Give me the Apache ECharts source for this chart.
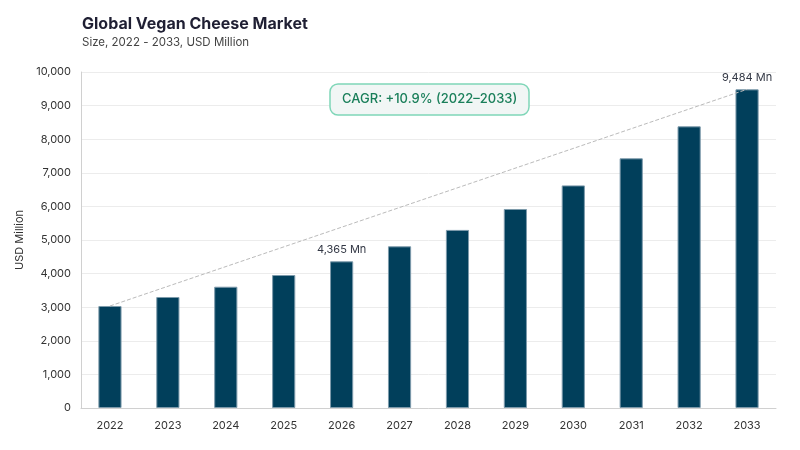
<!DOCTYPE html>
<html>
<head>
<meta charset="utf-8">
<script src="https://cdn.jsdelivr.net/npm/echarts@6/dist/echarts.min.js"></script>
<style>
  html, body { margin: 0; padding: 0; background: #fff; }
  #chart { width: 800px; height: 450px; }
</style>
</head>
<body>
<div id="chart"></div>
<script>
var years = ['2022', '2023', '2024', '2025', '2026', '2027', '2028', '2029', '2030', '2031', '2032', '2033'];
var marketSize = [3036, 3304, 3610, 3958, 4365, 4812, 5300, 5923, 6625, 7431, 8383, 9484];
var labelledYears = ['2026', '2033'];
var yTicks = [0, 10000, 1000];

var chart = echarts.init(document.getElementById('chart'));
var font = 'Inter, "Noto Sans", sans-serif';

var barData = marketSize.map(function (v, i) {
  var show = labelledYears.indexOf(years[i]) >= 0;
  return {
    value: v,
    label: {
      show: show,
      position: 'top',
      distance: 6,
      formatter: function (p) { return p.value.toLocaleString('en-US') + ' Mn'; },
      color: '#333845',
      fontSize: 11,
      fontFamily: font
    }
  };
});

var option = {
  backgroundColor: '#fff',
  title: [
    {
      text: 'Global Vegan Cheese Market',
      subtext: 'Size, 2022 - 2033, USD Million',
      left: 77,
      top: 11,
      itemGap: 5,
      textStyle: { fontSize: 16, fontWeight: 'bold', color: '#1f1f33', fontFamily: font },
      subtextStyle: { fontSize: 11.5, color: '#444', fontFamily: font }
    },
    {
      text: 'CAGR: +10.9% (2022–2033)',
      left: 330,
      top: 84,
      padding: [9, 12],
      borderColor: '#7fd6b8',
      borderWidth: 1.5,
      borderRadius: 8,
      backgroundColor: '#f1f6f5',
      textStyle: { fontSize: 13, fontWeight: 500, color: '#1a7f5a', fontFamily: font }
    }
  ],
  grid: { left: 81, right: 24, top: 72, bottom: 42 },
  xAxis: {
    type: 'category',
    data: years,
    axisLine: { lineStyle: { color: '#d0d0d0' } },
    axisTick: { show: false },
    axisLabel: { color: '#333', fontSize: 11, margin: 12, fontFamily: font }
  },
  yAxis: {
    type: 'value',
    min: yTicks[0],
    max: yTicks[1],
    interval: yTicks[2],
    name: 'USD Million',
    nameLocation: 'middle',
    nameGap: 55,
    nameTextStyle: { color: '#333', fontSize: 11, fontFamily: font },
    axisLine: { show: true, lineStyle: { color: '#d0d0d0' } },
    axisTick: { show: false },
    splitLine: { lineStyle: { color: '#ececec' } },
    axisLabel: {
      color: '#333', fontSize: 11, margin: 10, fontFamily: font,
      formatter: function (v) { return v.toLocaleString('en-US'); }
    }
  },
  series: [
    {
      type: 'bar',
      data: barData,
      barWidth: '40%',
      itemStyle: { color: '#013f5b', borderColor: '#7d9aab', borderWidth: 1 },
      markLine: {
        silent: true,
        symbol: 'none',
        label: { show: false },
        lineStyle: { color: '#bbbbbb', type: 'dashed', width: 1 },
        data: [[
          { coord: [years[0], marketSize[0]] },
          { coord: [years[years.length - 1], marketSize[marketSize.length - 1]] }
        ]]
      }
    }
  ]
};

chart.setOption(option);
</script>
</body>
</html>
